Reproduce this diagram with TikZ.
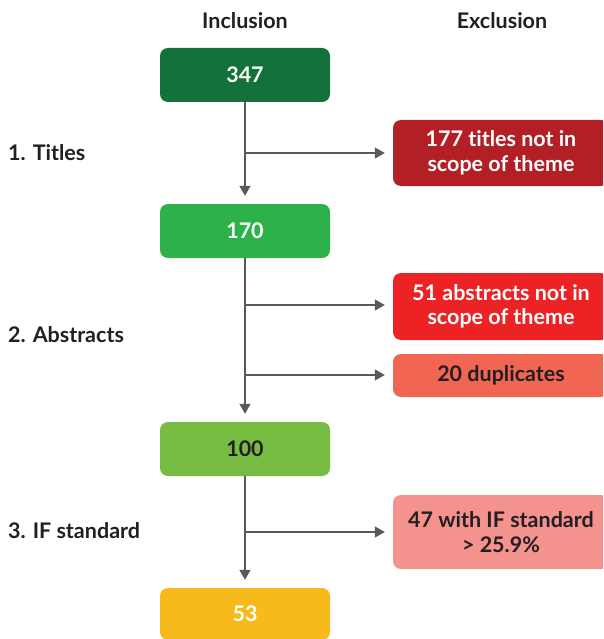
\documentclass[tikz,border=0pt]{standalone}
\usepackage{fontspec}
\setmainfont{Lato}[Ligatures={NoCommon}]
\usetikzlibrary{arrows.meta}
\definecolor{darkgreen}{HTML}{137139}
\definecolor{midgreen}{HTML}{2DB24A}
\definecolor{lightgreen}{HTML}{76BC43}
\definecolor{amber}{HTML}{F6BA1A}
\definecolor{darkred}{HTML}{B21F25}
\definecolor{brightred}{HTML}{ED2224}
\definecolor{salmon}{HTML}{F16653}
\definecolor{pink}{HTML}{F4928E}
\definecolor{ink}{HTML}{231F20}
\definecolor{wire}{HTML}{58595B}

\begin{document}
\begin{tikzpicture}[x=1pt,y=-1pt,
    font=\fontsize{21.5}{24.5}\selectfont\bfseries,
    inbox/.style={rounded corners=8pt, minimum width=170pt, minimum height=54pt, text=white, inner sep=0pt},
    exbox/.style={rounded corners=8pt, minimum width=216pt, text=white, align=center, inner sep=0pt},
    stage/.style={anchor=west, text=ink, inner sep=0pt},
    flow/.style={wire, line width=1.3pt, -{Triangle[width=11pt,length=10pt]}, shorten >=8pt}]
    \useasboundingbox (0,0) rectangle (603,639);
    \clip (0,0) rectangle (603,639);
    \node[text=ink] (inhead) at (245,21) {Inclusion};
    \node[text=ink] (exhead) at (502,21) {Exclusion};
    \node[inbox, fill=darkgreen] (n347) at (245,75) {347};
    \node[inbox, fill=midgreen] (n170) at (245,231) {170};
    \node[inbox, fill=lightgreen, text=ink] (n100) at (245,449) {100};
    \node[inbox, fill=amber, minimum height=52pt] (n53) at (245,614) {53};
    \node[exbox, fill=darkred, minimum height=66pt] (x177) at (501,153) {177 titles not in\\scope of theme};
    \node[exbox, fill=brightred, minimum height=67pt] (x51) at (501,306.5) {51 abstracts not in\\scope of theme};
    \node[exbox, fill=salmon, minimum height=43pt, text=ink] (x20) at (501,375.5) {20 duplicates};
    \node[exbox, fill=pink, minimum height=74pt, text=ink] (x47) at (501,532) {47 with IF standard\\> 25.9\%};
    \node[stage] (s1) at (8,153) {1. Titles};
    \node[stage] (s2) at (8,335) {2. Abstracts};
    \node[stage] (s3) at (8,531) {3. IF standard};
    \coordinate (b1) at (245,153);
    \coordinate (b2) at (245,305);
    \coordinate (b3) at (245,375);
    \coordinate (b4) at (245,532);
    \draw[flow] (n347) -- (n170);
    \draw[flow] (n170) -- (n100);
    \draw[flow] (n100) -- (n53);
    \draw[flow] (b1) -- (b1 -| x177.west);
    \draw[flow] (b2) -- (b2 -| x51.west);
    \draw[flow] (b3) -- (b3 -| x20.west);
    \draw[flow] (b4) -- (b4 -| x47.west);
\end{tikzpicture}
\end{document}
